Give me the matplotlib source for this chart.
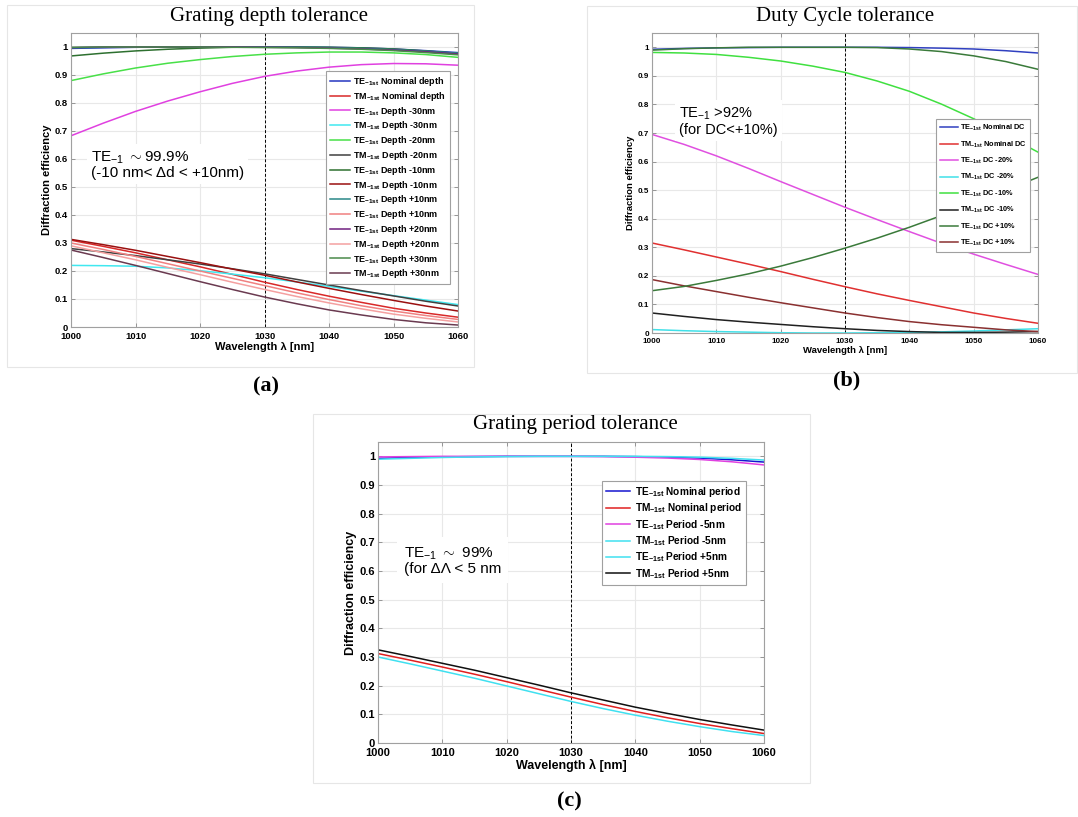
import matplotlib
matplotlib.use('Agg')
from matplotlib import pyplot as plt
from matplotlib.patches import Rectangle

plt.rcParams['font.family'] = ['Liberation Sans', 'DejaVu Sans']
plt.rcParams['mathtext.fontset'] = 'custom'
plt.rcParams['mathtext.rm'] = 'Liberation Sans'
plt.rcParams['mathtext.bf'] = 'Liberation Sans:bold'
plt.rcParams['mathtext.it'] = 'Liberation Sans:italic'

# wavelength samples (nm)
wl = [1000, 1005, 1010, 1015, 1020, 1025, 1030, 1035, 1040, 1045, 1050, 1055, 1060]

# (a) grating depth tolerance
te_nom_a = [0.995, 0.997, 0.999, 1.0, 1.0, 1.0, 1.0, 1.0, 0.999, 0.997, 0.993, 0.987, 0.980]
tm_nom_a = [0.310, 0.288, 0.265, 0.240, 0.215, 0.188, 0.160, 0.134, 0.110, 0.088, 0.067, 0.050, 0.035]
te_m30_a = [0.683, 0.728, 0.770, 0.807, 0.840, 0.870, 0.895, 0.914, 0.928, 0.937, 0.941, 0.940, 0.935]
tm_m30_a = [0.220, 0.219, 0.217, 0.211, 0.201, 0.189, 0.176, 0.161, 0.145, 0.128, 0.112, 0.096, 0.080]
te_m20_a = [0.880, 0.904, 0.925, 0.942, 0.955, 0.966, 0.974, 0.979, 0.982, 0.982, 0.979, 0.973, 0.963]
tm_m20_a = [0.280, 0.268, 0.255, 0.240, 0.225, 0.208, 0.190, 0.170, 0.150, 0.130, 0.111, 0.092, 0.075]
te_m10_a = [0.968, 0.978, 0.986, 0.992, 0.996, 0.999, 1.0, 1.0, 0.999, 0.997, 0.993, 0.986, 0.977]
tm_m10_a = [0.313, 0.294, 0.274, 0.252, 0.230, 0.207, 0.185, 0.161, 0.138, 0.116, 0.095, 0.075, 0.057]
te_p10_a = [0.997, 0.999, 1.0, 1.0, 1.0, 1.0, 1.0, 0.999, 0.998, 0.995, 0.991, 0.985, 0.978]
tm_p10_a = [0.300, 0.277, 0.252, 0.226, 0.200, 0.174, 0.148, 0.122, 0.098, 0.076, 0.057, 0.041, 0.027]
te_p20_a = [0.998, 1.0, 1.0, 1.0, 1.0, 1.0, 0.999, 0.998, 0.996, 0.993, 0.989, 0.983, 0.975]
tm_p20_a = [0.290, 0.265, 0.240, 0.213, 0.187, 0.160, 0.134, 0.109, 0.086, 0.065, 0.046, 0.031, 0.018]
te_p30_a = [0.999, 1.0, 1.0, 1.0, 1.0, 0.999, 0.998, 0.997, 0.995, 0.992, 0.987, 0.980, 0.972]
tm_p30_a = [0.275, 0.248, 0.220, 0.191, 0.162, 0.134, 0.107, 0.083, 0.061, 0.043, 0.027, 0.015, 0.007]

# (b) duty cycle tolerance
te_nom_b = [0.993, 0.996, 0.998, 0.999, 1.0, 1.0, 1.0, 1.0, 0.999, 0.997, 0.994, 0.988, 0.980]
tm_nom_b = [0.315, 0.291, 0.266, 0.241, 0.215, 0.188, 0.162, 0.137, 0.114, 0.092, 0.070, 0.051, 0.034]
te_m20_b = [0.695, 0.660, 0.620, 0.576, 0.530, 0.485, 0.440, 0.397, 0.355, 0.314, 0.276, 0.240, 0.205]
tm_m20_b = [0.012, 0.008, 0.005, 0.003, 0.001, 0.0, 0.0, 0.001, 0.002, 0.004, 0.007, 0.011, 0.015]
te_m10_b = [0.982, 0.980, 0.975, 0.965, 0.952, 0.934, 0.912, 0.882, 0.846, 0.801, 0.750, 0.693, 0.633]
tm_m10_b = [0.070, 0.058, 0.047, 0.038, 0.030, 0.022, 0.015, 0.009, 0.005, 0.002, 0.002, 0.003, 0.005]
te_p10_b = [0.990, 0.995, 0.998, 1.0, 1.0, 1.0, 1.0, 0.999, 0.994, 0.985, 0.970, 0.950, 0.923]
tm_p10_b = [0.187, 0.165, 0.145, 0.125, 0.106, 0.088, 0.070, 0.054, 0.040, 0.029, 0.020, 0.011, 0.005]
rise_b = [0.148, 0.163, 0.184, 0.207, 0.234, 0.264, 0.297, 0.332, 0.370, 0.411, 0.455, 0.500, 0.545]

# (c) grating period tolerance
te_nom_c = [0.993, 0.996, 0.998, 0.999, 1.0, 1.0, 1.0, 1.0, 0.999, 0.997, 0.994, 0.988, 0.980]
tm_nom_c = [0.312, 0.289, 0.265, 0.240, 0.214, 0.187, 0.160, 0.134, 0.110, 0.088, 0.068, 0.050, 0.033]
te_m5_c = [0.998, 0.999, 1.0, 1.0, 1.0, 1.0, 1.0, 0.999, 0.997, 0.994, 0.989, 0.981, 0.970]
tm_m5_c = [0.300, 0.276, 0.251, 0.226, 0.199, 0.172, 0.145, 0.120, 0.097, 0.076, 0.057, 0.040, 0.026]
te_p5_c = [0.990, 0.993, 0.996, 0.998, 0.999, 1.0, 1.0, 1.0, 1.0, 0.999, 0.997, 0.993, 0.987]
tm_p5_c = [0.325, 0.302, 0.278, 0.254, 0.228, 0.202, 0.175, 0.150, 0.125, 0.103, 0.082, 0.063, 0.045]

xticks = [1000, 1010, 1020, 1030, 1040, 1050, 1060]
yticks = [0, 0.1, 0.2, 0.3, 0.4, 0.5, 0.6, 0.7, 0.8, 0.9, 1]
ytick_labels = ['0', '0.1', '0.2', '0.3', '0.4', '0.5', '0.6', '0.7', '0.8', '0.9', '1']

W, H = 1078, 817


def lab(pol, desc):
    return pol + r'$_{\mathbf{-1st}}$ ' + desc


def style_axes(ax, fs_tick, fs_label):
    ax.set_xlim(1000, 1060)
    ax.set_ylim(0, 1.05)
    ax.set_xticks(xticks)
    ax.set_xticklabels([str(t) for t in xticks], fontweight='bold')
    ax.set_yticks(yticks)
    ax.set_yticklabels(ytick_labels, fontweight='bold')
    ax.grid(True, color='#e8e8e8', lw=0.8)
    ax.set_axisbelow(True)
    ax.tick_params(direction='in', top=True, right=True, length=3, width=0.6,
                   color='#888888', labelsize=fs_tick, pad=2)
    ax.tick_params(axis='x', pad=3.5)
    for sp in ax.spines.values():
        sp.set_color('#a0a0a0')
        sp.set_linewidth(0.8)
    ax.axvline(1030, color='k', ls=(0, (3, 2)), lw=0.7, zorder=1.5)
    ax.set_xlabel('Wavelength λ [nm]', fontsize=fs_label, fontweight='bold', labelpad=1)
    ax.set_ylabel('Diffraction efficiency', fontsize=fs_label, fontweight='bold', labelpad=2)


def px_axes(x0, y0, x1, y1):
    return fig.add_axes([x0 / W, 1 - y1 / H, (x1 - x0) / W, (y1 - y0) / H])


fig = plt.figure(figsize=(W / 100, H / 100), dpi=100)

# faint panel frames
for (x0, y0, x1, y1) in [(7, 5, 474, 367), (587, 6, 1077, 373), (313, 414, 810, 783)]:
    fig.patches.append(Rectangle((x0 / W, 1 - y1 / H), (x1 - x0) / W, (y1 - y0) / H,
                                 transform=fig.transFigure, fill=False,
                                 edgecolor='#e6e6e6', lw=0.8))

lw = 1.1

# ---- (a)
ax = px_axes(71, 33, 458, 327)
series_a = [
    (te_nom_a, '#2535c0', lab('TE', 'Nominal depth')),
    (tm_nom_a, '#d82828', lab('TM', 'Nominal depth')),
    (te_m30_a, '#e040e0', lab('TE', 'Depth -30nm')),
    (tm_m30_a, '#40e8f0', lab('TM', 'Depth -30nm')),
    (te_m20_a, '#48e048', lab('TE', 'Depth -20nm')),
    (tm_m20_a, '#404040', lab('TM', 'Depth -20nm')),
    (te_m10_a, '#2e7030', lab('TE', 'Depth -10nm')),
    (tm_m10_a, '#9a1010', lab('TM', 'Depth -10nm')),
    (te_p10_a, '#2a8888', lab('TE', 'Depth +10nm')),
    (tm_p10_a, '#f08080', lab('TE', 'Depth +10nm')),
    (te_p20_a, '#702080', lab('TE', 'Depth +20nm')),
    (tm_p20_a, '#f4a0a0', lab('TM', 'Depth +20nm')),
    (te_p30_a, '#4a8a4a', lab('TE', 'Depth +30nm')),
    (tm_p30_a, '#6a3a50', lab('TM', 'Depth +30nm')),
]
for y, c, l in series_a:
    ax.plot(wl, y, color=c, lw=lw, label=l)
style_axes(ax, 6.8, 8)
leg = ax.legend(loc='upper right', bbox_to_anchor=(0.99, 0.885),
                prop={'weight': 'bold', 'size': 6.5}, fancybox=False, framealpha=1,
                edgecolor='#a0a0a0', handlelength=2.2, labelspacing=0.2,
                borderpad=0.4, handletextpad=0.4)
leg.get_frame().set_linewidth(0.8)
ax.text(1003.1, 0.635, 'TE$_{\\mathregular{-1}}$ $\\sim$99.9%\n(-10 nm< Δd < +10nm)',
        fontsize=11, va='top', ha='left', linespacing=1.05,
        bbox=dict(facecolor='white', edgecolor='none', pad=3), zorder=5)

# ---- (b)
ax = px_axes(652, 33, 1038, 333)
series_b = [
    (te_nom_b, '#3040c0', lab('TE', 'Nominal DC')),
    (tm_nom_b, '#e03030', lab('TM', 'Nominal DC')),
    (te_m20_b, '#e050e0', lab('TE', 'DC -20%')),
    (tm_m20_b, '#40e0e8', lab('TM', 'DC -20%')),
    (te_m10_b, '#40e040', lab('TE', 'DC -10%')),
    (tm_m10_b, '#202020', lab('TM', 'DC -10%')),
    (te_p10_b, '#3a7a3a', lab('TE', 'DC +10%')),
    (tm_p10_b, '#8a3030', lab('TE', 'DC +10%')),
    (rise_b, '#3a7a3a', '_nolegend_'),
]
for y, c, l in series_b:
    ax.plot(wl, y, color=c, lw=lw, label=l)
style_axes(ax, 5.8, 6.8)
leg = ax.legend(loc='upper right', bbox_to_anchor=(0.99, 0.725),
                prop={'weight': 'bold', 'size': 5.3}, fancybox=False, framealpha=1,
                edgecolor='#a0a0a0', handlelength=2.4, labelspacing=0.85,
                borderpad=0.5, handletextpad=0.3)
leg.get_frame().set_linewidth(0.8)
ax.text(1004.2, 0.795, 'TE$_{\\mathregular{-1}}$ >92%\n(for DC<+10%)',
        fontsize=10.5, va='top', ha='left', linespacing=1.05,
        bbox=dict(facecolor='white', edgecolor='none', pad=3), zorder=5)

# ---- (c)
ax = px_axes(378, 442, 764, 743)
series_c = [
    (te_nom_c, '#1515d0', lab('TE', 'Nominal period')),
    (tm_nom_c, '#e02020', lab('TM', 'Nominal period')),
    (te_m5_c, '#e040e0', lab('TE', 'Period -5nm')),
    (tm_m5_c, '#40e0f0', lab('TM', 'Period -5nm')),
    (te_p5_c, '#40e0f0', lab('TE', 'Period +5nm')),
    (tm_p5_c, '#101010', lab('TM', 'Period +5nm')),
]
for y, c, l in series_c:
    ax.plot(wl, y, color=c, lw=lw, label=l)
style_axes(ax, 8, 9)
leg = ax.legend(loc='upper right', bbox_to_anchor=(0.966, 0.888),
                prop={'weight': 'bold', 'size': 7.3}, fancybox=False, framealpha=1,
                edgecolor='#a0a0a0', handlelength=2.4, labelspacing=0.25,
                borderpad=0.4, handletextpad=0.4)
leg.get_frame().set_linewidth(0.8)
ax.text(1004.0, 0.69, 'TE$_{\\mathregular{-1}}$ $\\sim$ 99%\n(for ΔΛ < 5 nm',
        fontsize=11, va='top', ha='left', linespacing=1.05,
        bbox=dict(facecolor='white', edgecolor='none', pad=5), zorder=5)

# titles and panel letters
for txt, x, y in [('Grating depth tolerance', 269, 17), ('Duty Cycle tolerance', 845, 17),
                  ('Grating period tolerance', 575, 425)]:
    fig.text(x / W, 1 - y / H, txt, family='Liberation Serif', fontsize=15,
             ha='center', va='center')
for txt, x, y in [('(a)', 266, 386), ('(b)', 847, 380), ('(c)', 569, 801)]:
    fig.text(x / W, 1 - y / H, txt, family='Liberation Serif', fontsize=16,
             fontweight='bold', ha='center', va='center')

fig.savefig('out.png', dpi=100)
